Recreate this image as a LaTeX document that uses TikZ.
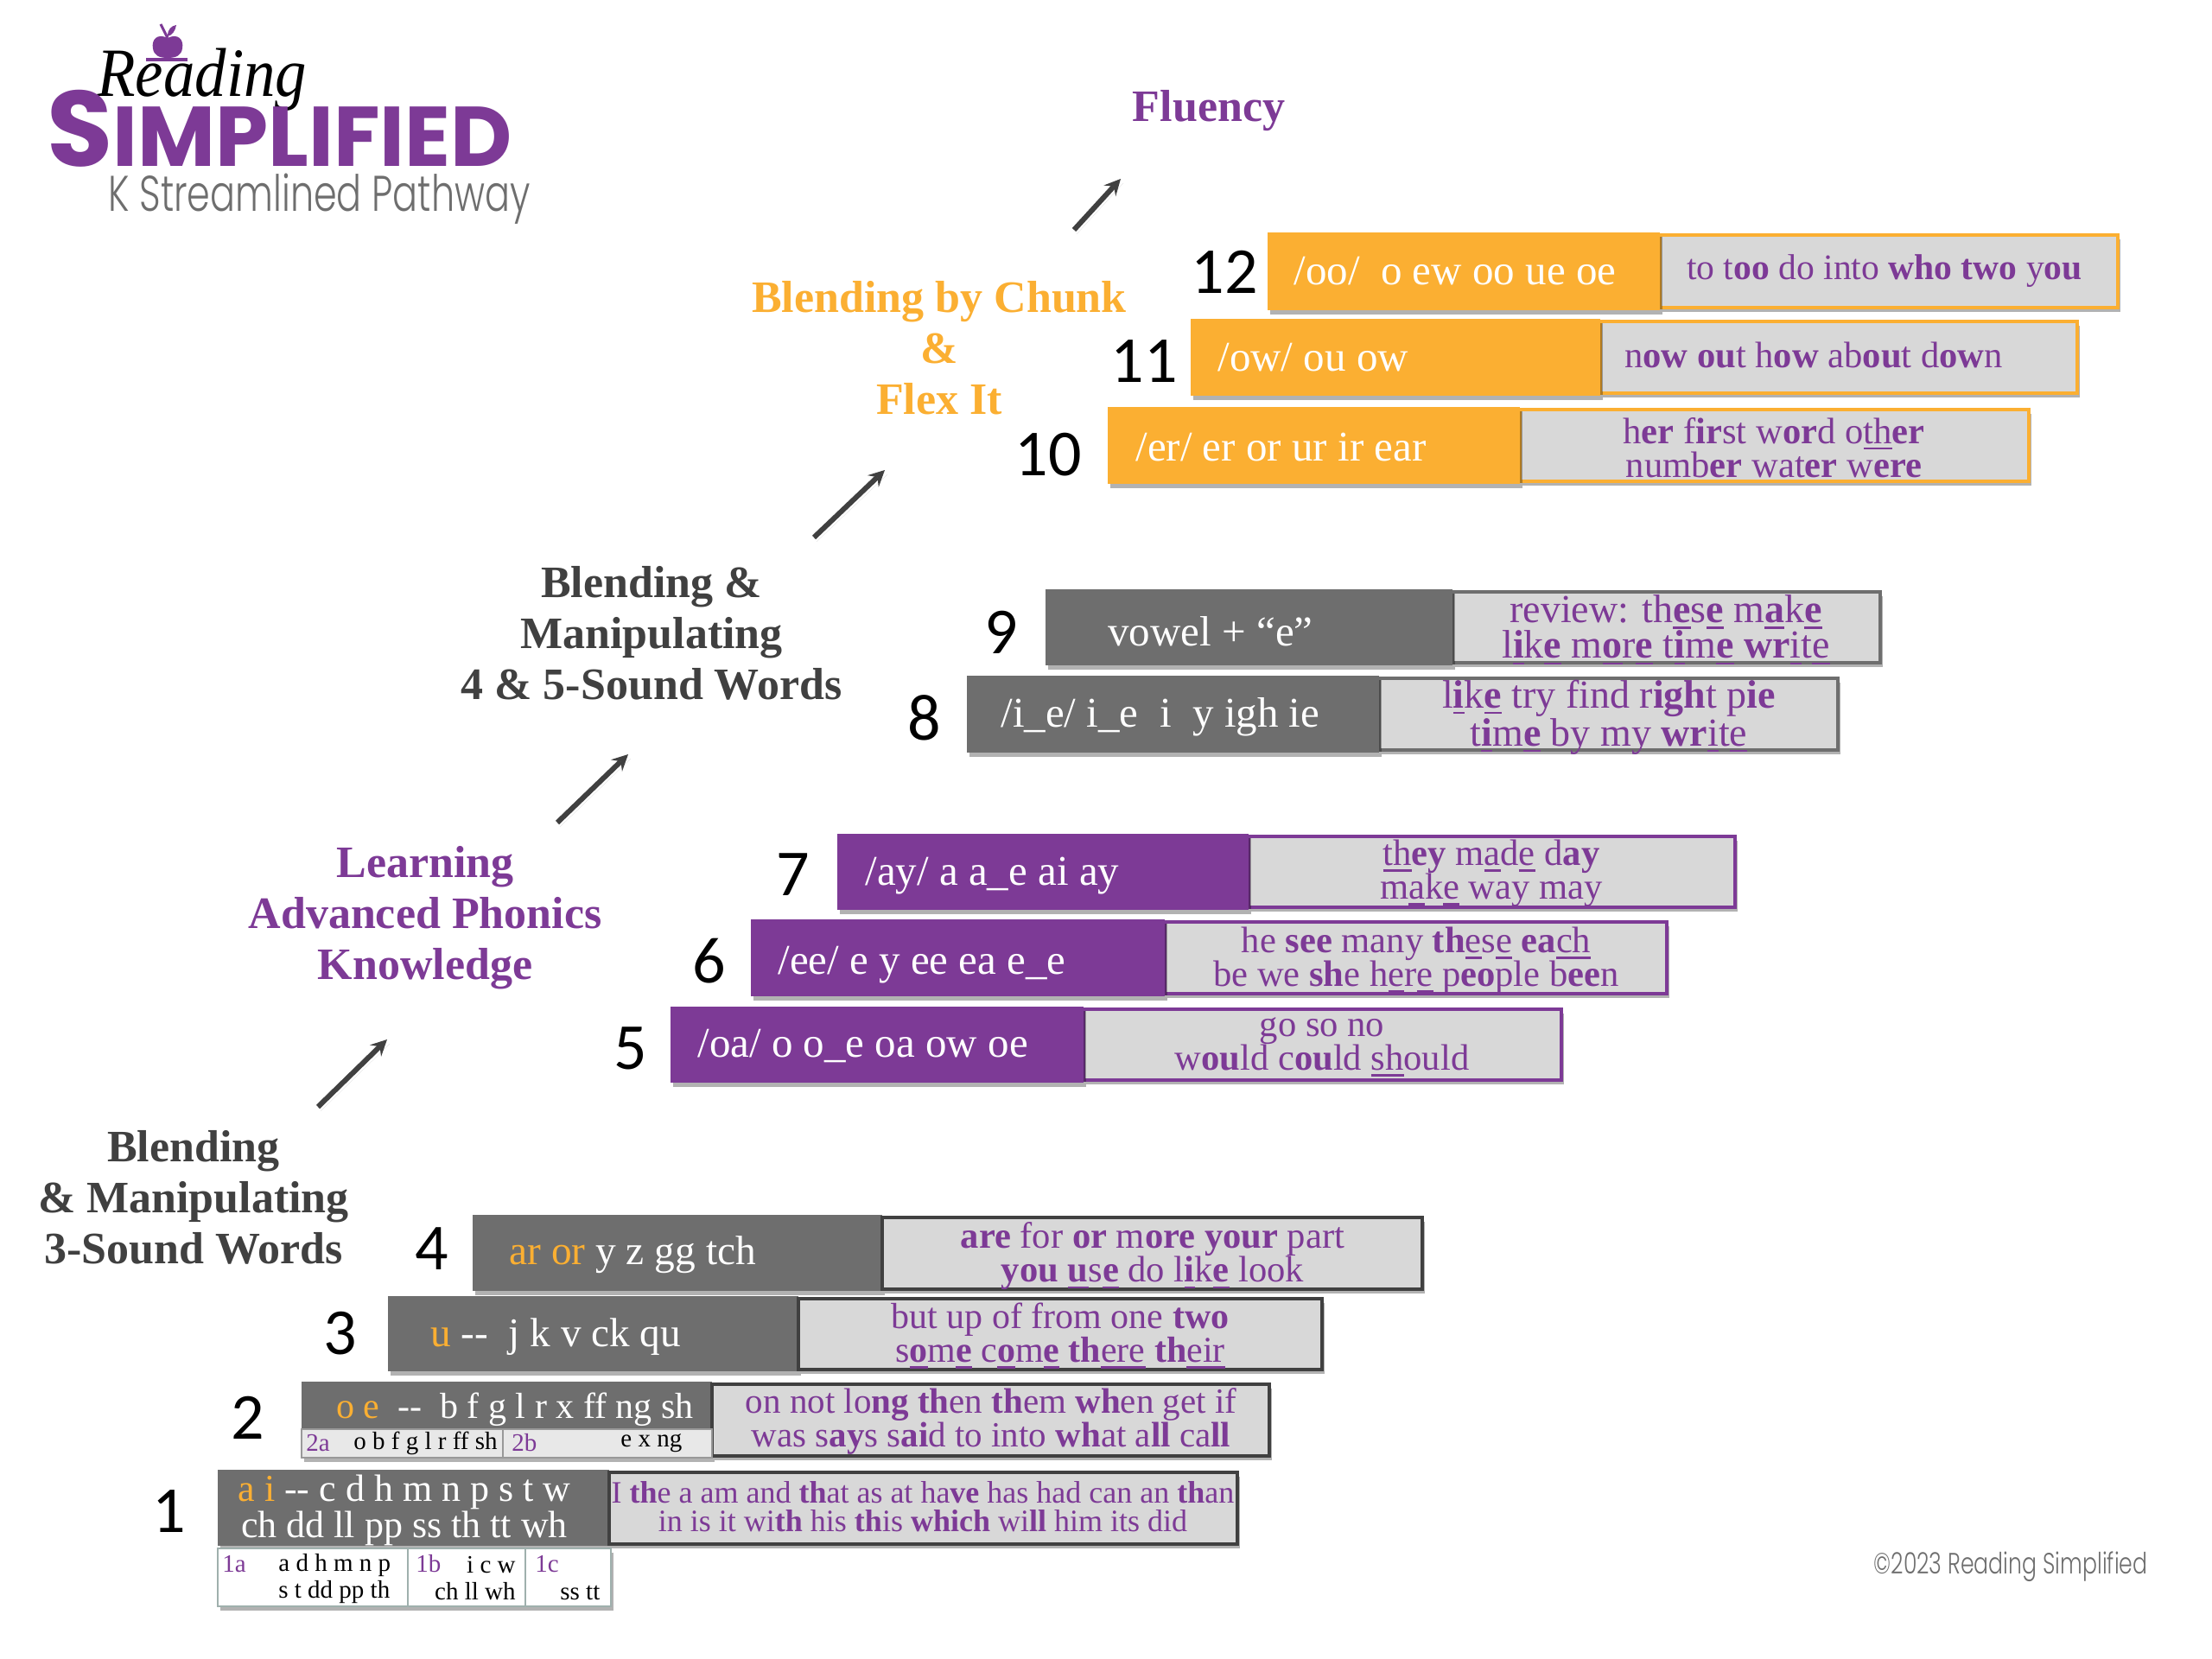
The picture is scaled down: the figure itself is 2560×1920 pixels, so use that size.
\documentclass[tikz,border=0pt]{standalone}
\usepackage{fontspec}
\usetikzlibrary{shadows}
\setmainfont{Liberation Serif}
\newfontfamily\numfont{Carlito}
\newfontfamily\logofont[UprightFont=* Bold]{Poppins}
\newfontfamily\thinfont[UprightFont=* Light]{Poppins}
\definecolor{rspurple}{HTML}{7D3A96}
\definecolor{rsorange}{HTML}{FBAF32}
\definecolor{rsgrey}{HTML}{6E6E6E}
\definecolor{rslight}{HTML}{D8D8D8}
\definecolor{rsdark}{HTML}{404040}
\definecolor{rsmint}{HTML}{9FB0AD}
\newcommand{\bd}[1]{\textbf{#1}}
\newcommand{\un}[1]{\leavevmode\setbox0\hbox{#1}\rlap{\rule[-3.6pt]{\wd0}{1.3pt}}\box0\relax}
\newcommand{\oc}[1]{\textcolor{rsorange}{#1}}
\newcommand{\pc}[1]{\textcolor{rspurple}{#1}}
\tikzset{
  softshadow/.style={drop shadow={opacity=.3,shadow xshift=1.5pt,shadow yshift=-2.5pt,fill=black}},
  soundbar/.style={fill=#1,draw=none,softshadow},
  wordbox/.style={fill=rslight,draw=#1,line width=2pt,softshadow},
  soundtext/.style={anchor=west,inner sep=0pt,text=white,font=\fontsize{24.5}{26}\selectfont},
  wordtext/.style={align=center,inner sep=0pt,text=rspurple,font=\fontsize{21.3}{19.5}\selectfont},
  stepnum/.style={inner sep=0pt,font=\numfont\fontsize{38}{38}\selectfont},
  stagelabel/.style={align=center,inner sep=0pt,font=\bfseries\fontsize{26}{29.5}\selectfont},
  subtext/.style={anchor=west,inner sep=0pt,font=\fontsize{14.5}{15.5}\selectfont},
  climb/.style={draw=rsdark,line width=3pt,-stealth,softshadow},
}
\begin{document}
\begin{tikzpicture}[x=.5pt,y=-.5pt]
    \useasboundingbox (0,0) rectangle (2560,1920);

    % logo
    \fill [rspurple] (194,44) .. controls (182,38) and (175,46) .. (177,56) .. controls (178,64) and (184,67) .. (194,67) .. controls (204,67) and (210,64) .. (211,56) .. controls (213,46) and (206,38) .. (194,44) -- cycle;
    \draw [rspurple,line width=1.5pt] (194,44) -- (186,28);
    \fill [rspurple] (194,42) .. controls (194,34) and (198,30) .. (204,29) .. controls (203,36) and (199,41) .. (194,42) -- cycle;
    \fill [rspurple] (169,67) rectangle (217,71);
    \node [inner sep=0pt,anchor=base west,font=\itshape\fontsize{40}{40}\selectfont] (reading) at (112,112) {\scalebox{.91}[1]{Reading}};
    \node [inner sep=0pt,anchor=base west,text=rspurple,font=\logofont\fontsize{49}{49}\selectfont] (simplified) at (54,193) {{\fontsize{62}{62}\selectfont S}IMPLIFIED};
    \node [inner sep=0pt,anchor=base west,text=rsgrey,font=\thinfont\fontsize{29}{29}\selectfont] (pathway) at (125,245) {\scalebox{.74}[1]{K Streamlined Pathway}};

    % stage labels
    \node [stagelabel,text=rspurple] (fluency) at (1399,128) {Fluency};
    \node [stagelabel,text=rsorange] (chunk) at (1087,403) {Blending by Chunk\\\&\\Flex It};
    \node [stagelabel,text=rsdark] (fivesound) at (754,733) {Blending \&\\Manipulating\\4 \& 5-Sound Words};
    \node [stagelabel,text=rspurple] (advanced) at (492,1062) {Learning\\Advanced Phonics\\Knowledge};
    \node [stagelabel,text=rsdark] (threesound) at (224,1386) {Blending\\\& Manipulating\\3-Sound Words};

    % arrows between the stages
    \coordinate (climb1a) at (368,1281);
    \coordinate (climb1b) at (448,1203);
    \coordinate (climb2a) at (645,952);
    \coordinate (climb2b) at (727,873);
    \coordinate (climb3a) at (942,622);
    \coordinate (climb3b) at (1024,544);
    \coordinate (climb4a) at (1243,266);
    \coordinate (climb4b) at (1297,207);
    \draw [climb] (climb1a) -- (climb1b);
    \draw [climb] (climb2a) -- (climb2b);
    \draw [climb] (climb3a) -- (climb3b);
    \draw [climb] (climb4a) -- (climb4b);

    % sound bars and word boxes
    \foreach \l/\t/\m/\r/\b/\c in {
        1467/269/1921/2451/359/rsorange, 1378/369/1852/2404/458/rsorange, 1282/471/1759/2348/560/rsorange,
        1210/682/1681/2176/770/rsgrey, 1119/782/1596/2127/871/rsgrey,
        969/965/1445/2008/1053/rspurple, 869/1064/1348/1929/1153/rspurple, 776/1165/1254/1807/1253/rspurple} {
        \draw [wordbox=\c] (\m,\t+3) rectangle (\r,\b-3);
        \draw [soundbar=\c] (\l,\t) rectangle (\m,\b);
    }
    \foreach \l/\t/\m/\r/\b in {
        547/1406/1021/1646/1494, 449/1500/924/1530/1587, 349/1599/824/1469/1687, 252/1701/705/1432/1789} {
        \draw [soundbar=rsgrey] (\l,\t) rectangle (\m,\b);
        \draw [wordbox=rsdark] (\m,\t+3) rectangle (\r,\b-2);
    }

    % strips under 1 and 2
    \draw [fill=rslight!60,draw=rsgrey!70,line width=1pt] (349,1654) rectangle (582,1687);
    \draw [fill=rslight!60,draw=rsgrey!70,line width=1pt] (582,1654) rectangle (824,1687);
    \draw [fill=white,draw=rsmint,line width=1.2pt,softshadow] (252,1792) rectangle (472,1859);
    \draw [fill=white,draw=rsmint,line width=1.2pt,softshadow] (472,1792) rectangle (608,1859);
    \draw [fill=white,draw=rsmint,line width=1.2pt,softshadow] (608,1792) rectangle (707,1859);

    % step numbers
    \foreach \n/\x/\y in {12/1417/315,11/1324/418,10/1213/526,9/1159/732,8/1070/831,7/918/1012,
                          6/821/1112,5/730/1213,4/500/1445,3/394/1543,2/287/1641,1/196/1749} {
        \node [stepnum] (num\n) at (\x,\y) {\n};
    }

    % sounds
    \node [soundtext] (sound12) at (1497,314) {/oo/\ \ o ew oo ue oe};
    \node [soundtext] (sound11) at (1409,414) {/ow/ ou ow};
    \node [soundtext] (sound10) at (1314,518) {/er/ er or ur ir ear};
    \node [soundtext] (sound9) at (1282,731) {vowel + “e”};
    \node [soundtext] (sound8) at (1158,830) {/i\_e/ i\_e\ \ i\ \ y igh ie};
    \node [soundtext] (sound7) at (1001,1014) {/ay/ a a\_e ai ay};
    \node [soundtext] (sound6) at (900,1117) {/ee/ e y ee ea e\_e};
    \node [soundtext] (sound5) at (807,1211) {/oa/ o o\_e oa ow oe};
    \node [soundtext,font=\fontsize{23.7}{26}\selectfont] (sound4) at (589,1452) {\oc{ar or} y z gg tch};
    \node [soundtext,font=\fontsize{23.6}{26}\selectfont] (sound3) at (498,1547) {\oc{u} -{}-\ \ j k v ck qu};
    \node [soundtext,font=\fontsize{21}{22}\selectfont] (sound2) at (389,1631) {\oc{o e}\ \ -{}-\ \ b f g l r x ff ng sh};
    \node [soundtext,anchor=center,align=center,font=\fontsize{22}{19}\selectfont] (sound1) at (468,1748) {\oc{a i} -{}- c d h m n p s t w\\ch dd ll pp ss th tt wh};

    % words
    \node [wordtext,font=\fontsize{20.8}{19.5}\selectfont] (words12) at (2181,314) {to t\bd{oo} do into \bd{who} \bd{two} y\bd{ou}};
    \node [wordtext] (words11) at (2099,411) {n\bd{ow} \bd{ou}t h\bd{ow} ab\bd{ou}t d\bd{ow}n};
    \node [wordtext] (words10) at (2053,518) {h\bd{er} f\bd{ir}st w\bd{or}d o\un{th}\bd{er}\\numb\bd{er} wat\bd{er} w\bd{ere}};
    \node [wordtext,font=\fontsize{23}{19.5}\selectfont] (words9) at (1928,729) {review: th\un{\bd{e}}s\un{\bd{e}} m\un{\bd{a}}k\un{\bd{e}}\\l\un{\bd{i}}k\un{\bd{e}} m\un{\bd{o}}r\un{\bd{e}} t\un{\bd{i}}m\un{\bd{e}} \bd{wr}\un{i}t\un{e}};
    \node [wordtext,font=\fontsize{23}{19.5}\selectfont] (words8) at (1862,830) {l\un{\bd{i}}k\un{\bd{e}} try find r\bd{igh}t p\bd{ie}\\t\un{\bd{i}}m\un{\bd{e}} by my \bd{wr}\un{i}t\un{e}};
    \node [wordtext] (words7) at (1726,1011) {\un{th}\bd{ey} m\un{a}d\un{e} d\bd{ay}\\m\un{a}k\un{e} way may};
    \node [wordtext] (words6) at (1639,1112) {he \bd{see} many \bd{th}\un{e}s\un{e} \bd{ea}\un{ch}\\be we \bd{sh}e h\un{e}r\un{e} p\bd{eo}ple b\bd{ee}n};
    \node [wordtext] (words5) at (1530,1212) {go so no\\w\bd{ou}ld c\bd{ou}ld \un{sh}ould};
    \node [wordtext] (words4) at (1334,1454) {\bd{are} for \bd{or} m\bd{ore} \bd{your} part\\\bd{you} \un{\bd{u}}s\un{\bd{e}} do l\un{\bd{i}}k\un{\bd{e}} look};
    \node [wordtext,font=\fontsize{21}{19.5}\selectfont] (words3) at (1227,1546) {but up of from one \bd{two}\\s\un{\bd{o}}m\un{\bd{e}} c\un{\bd{o}}m\un{\bd{e}} \bd{th}\un{ere} \bd{th}\un{eir}};
    \node [wordtext,font=\fontsize{20.5}{19.5}\selectfont] (words2) at (1147,1645) {on not lo\bd{ng} \bd{th}en \bd{th}em \bd{wh}en get if\\was s\bd{ay}s s\bd{ai}d to into \bd{wh}at a\bd{ll} ca\bd{ll}};
    \node [wordtext,font=\fontsize{18}{16.5}\selectfont] (words1) at (1068,1744) {I \bd{th}e a am and \bd{th}at as at ha\bd{ve} has had can an \bd{th}an\\in is it wi\bd{th} his \bd{th}is \bd{which} wi\bd{ll} him its did};

    % sub steps
    \node [subtext] (two2a) at (354,1670) {\pc{2a}};
    \node [subtext] (let2a) at (409,1670) {o b f g l r ff sh};
    \node [subtext] (two2b) at (592,1670) {\pc{2b}};
    \node [subtext] (let2b) at (718,1670) {e x ng};
    \node [subtext] (one1a) at (257,1810) {\pc{1a}};
    \node [subtext,align=left] (let1a) at (322,1827) {a d h m n p\\s t dd pp th};
    \node [subtext] (one1b) at (481,1810) {\pc{1b}};
    \node [subtext,align=right,anchor=east] (let1b) at (597,1827) {i c w\\ch ll wh};
    \node [subtext] (one1c) at (619,1810) {\pc{1c}};
    \node [subtext] (let1c) at (648,1843) {ss tt};

    \node [inner sep=0pt,text=rsgrey,font=\thinfont\fontsize{17}{17}\selectfont] (copyright) at (2327,1813) {\scalebox{.74}[1]{©2023 Reading Simplified}};
\end{tikzpicture}
\end{document}
